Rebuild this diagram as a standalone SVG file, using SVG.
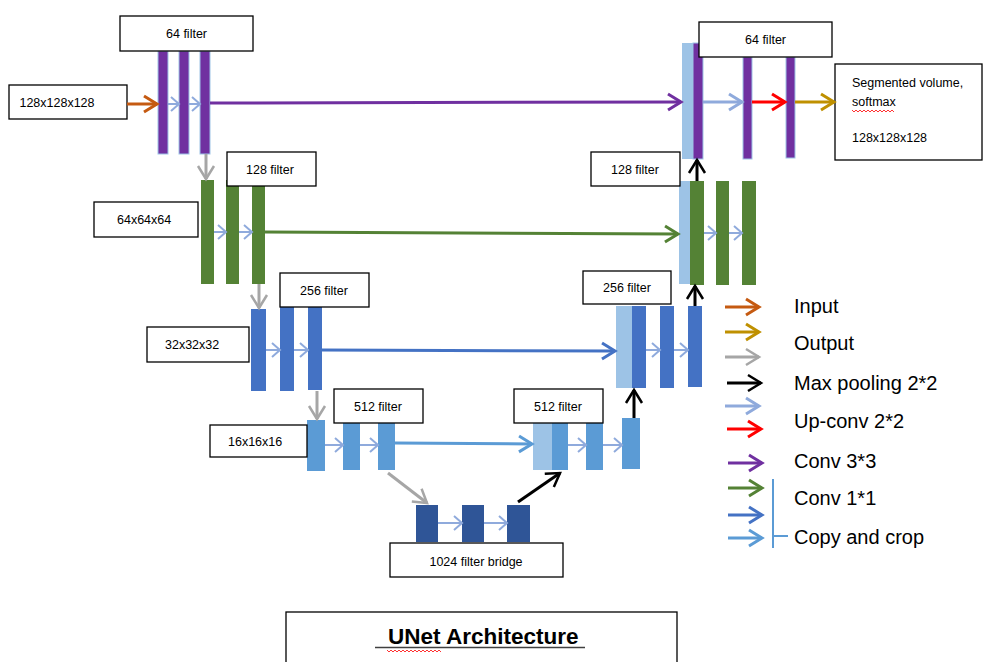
<svg xmlns="http://www.w3.org/2000/svg" width="983" height="662" viewBox="0 0 983 662">
<style>
.box{fill:#fff;stroke:#000;stroke-width:1.3}
.lbl{font-family:"Liberation Sans",Arial,sans-serif;font-size:12.5px;fill:#000}
.lgd{font-family:"Liberation Sans",Arial,sans-serif;font-size:20px;fill:#000}
.pur{fill:#7030A0;stroke:#9DC3E6;stroke-width:1}
.grn{fill:#548235}
.blu{fill:#4472C4}
.mid{fill:#5B9BD5}
.dk{fill:#2F5597}
.lt{fill:#9DC3E6}
.c{fill:none;stroke-width:3}
.cs{fill:none;stroke:#8FAADC;stroke-width:2;marker-end:url(#m-lbs)}
</style>
<defs>
<marker id="m-orange" markerUnits="userSpaceOnUse" markerWidth="18" markerHeight="20" refX="14" refY="9" orient="auto" overflow="visible"><path d="M1,1 L14,9 L1,17" fill="none" stroke="#C55A11" stroke-width="3"/></marker>
<marker id="m-gold" markerUnits="userSpaceOnUse" markerWidth="18" markerHeight="20" refX="14" refY="9" orient="auto" overflow="visible"><path d="M1,1 L14,9 L1,17" fill="none" stroke="#BF9000" stroke-width="3"/></marker>
<marker id="m-gray" markerUnits="userSpaceOnUse" markerWidth="18" markerHeight="20" refX="14" refY="9" orient="auto" overflow="visible"><path d="M1,1 L14,9 L1,17" fill="none" stroke="#A6A6A6" stroke-width="2.5"/></marker>
<marker id="m-black" markerUnits="userSpaceOnUse" markerWidth="18" markerHeight="20" refX="14" refY="9" orient="auto" overflow="visible"><path d="M1,1 L14,9 L1,17" fill="none" stroke="#000" stroke-width="2.5"/></marker>
<marker id="m-lb" markerUnits="userSpaceOnUse" markerWidth="18" markerHeight="20" refX="14" refY="9" orient="auto" overflow="visible"><path d="M1,1 L14,9 L1,17" fill="none" stroke="#8FAADC" stroke-width="3"/></marker>
<marker id="m-red" markerUnits="userSpaceOnUse" markerWidth="18" markerHeight="20" refX="14" refY="9" orient="auto" overflow="visible"><path d="M1,1 L14,9 L1,17" fill="none" stroke="#FF0000" stroke-width="3"/></marker>
<marker id="m-purple" markerUnits="userSpaceOnUse" markerWidth="18" markerHeight="20" refX="14" refY="9" orient="auto" overflow="visible"><path d="M1,1 L14,9 L1,17" fill="none" stroke="#7030A0" stroke-width="3"/></marker>
<marker id="m-green" markerUnits="userSpaceOnUse" markerWidth="18" markerHeight="20" refX="14" refY="9" orient="auto" overflow="visible"><path d="M1,1 L14,9 L1,17" fill="none" stroke="#548235" stroke-width="3"/></marker>
<marker id="m-blue" markerUnits="userSpaceOnUse" markerWidth="18" markerHeight="20" refX="14" refY="9" orient="auto" overflow="visible"><path d="M1,1 L14,9 L1,17" fill="none" stroke="#4472C4" stroke-width="3"/></marker>
<marker id="m-mid" markerUnits="userSpaceOnUse" markerWidth="18" markerHeight="20" refX="14" refY="9" orient="auto" overflow="visible"><path d="M1,1 L14,9 L1,17" fill="none" stroke="#5B9BD5" stroke-width="3"/></marker>
<marker id="m-lbs" markerUnits="userSpaceOnUse" markerWidth="12" markerHeight="18" refX="9" refY="8" orient="auto" overflow="visible"><path d="M1,1 L9,8 L1,15" fill="none" stroke="#8FAADC" stroke-width="2"/></marker>
</defs>
<rect width="983" height="662" fill="#fff"/>

<!-- Encoder level 1 -->
<g id="enc1">
<rect class="pur" x="158" y="51" width="10" height="103"/>
<rect class="pur" x="179" y="51" width="10" height="103"/>
<rect class="pur" x="200" y="51" width="10" height="103"/>
<rect class="box" x="120" y="16" width="133" height="35"/>
<text class="lbl" x="186.5" y="38" text-anchor="middle">64 filter</text>
</g>
<g id="input">
<rect class="box" x="9" y="85" width="118" height="34"/>
<text class="lbl" x="57" y="107" text-anchor="middle">128x128x128</text>
</g>

<!-- Encoder level 2 -->
<g id="enc2">
<rect class="grn" x="201" y="180" width="13" height="104"/>
<rect class="grn" x="226" y="180" width="13" height="104"/>
<rect class="grn" x="252" y="180" width="13" height="104"/>
<rect class="box" x="227" y="152" width="89" height="34"/>
<text class="lbl" x="270" y="174" text-anchor="middle">128 filter</text>
</g>
<g id="size2">
<rect class="box" x="94" y="202" width="104" height="35"/>
<text class="lbl" x="117" y="224">64x64x64</text>
</g>

<!-- Encoder level 3 -->
<g id="enc3">
<rect class="blu" x="251" y="309" width="15" height="82"/>
<rect class="blu" x="280" y="307" width="14" height="84"/>
<rect class="blu" x="308" y="307" width="14" height="83"/>
<rect class="box" x="280" y="273" width="89" height="34"/>
<text class="lbl" x="324" y="295" text-anchor="middle">256 filter</text>
</g>
<g id="size3">
<rect class="box" x="147" y="327" width="102" height="35"/>
<text class="lbl" x="165" y="349">32x32x32</text>
</g>

<!-- Encoder level 4 -->
<g id="enc4">
<rect class="mid" x="307" y="420" width="18" height="51"/>
<rect class="mid" x="343" y="423" width="17" height="47"/>
<rect class="mid" x="378" y="423" width="17" height="47"/>
<rect class="box" x="334" y="389" width="89" height="34"/>
<text class="lbl" x="378" y="411" text-anchor="middle">512 filter</text>
</g>
<g id="size4">
<rect class="box" x="210" y="425" width="97" height="32"/>
<text class="lbl" x="228" y="446">16x16x16</text>
</g>

<!-- Bridge -->
<g id="bridge">
<rect class="dk" x="416" y="505" width="22" height="37"/>
<rect class="dk" x="462" y="505" width="22" height="37"/>
<rect class="dk" x="507" y="505" width="23" height="37"/>
<rect class="box" x="390" y="543" width="173" height="34"/>
<text class="lbl" x="476" y="566" text-anchor="middle">1024 filter bridge</text>
</g>

<!-- Decoder level 4 -->
<g id="dec4">
<rect class="lt" x="533" y="423" width="19" height="47"/>
<rect class="mid" x="552" y="423" width="16" height="47"/>
<rect class="mid" x="586" y="423" width="17" height="47"/>
<rect class="mid" x="622" y="418" width="18" height="51"/>
<rect class="box" x="514" y="389" width="89" height="34"/>
<text class="lbl" x="558" y="411" text-anchor="middle">512 filter</text>
</g>

<!-- Decoder level 3 -->
<g id="dec3">
<rect class="lt" x="616" y="306" width="16" height="82"/>
<rect class="blu" x="632" y="306" width="14" height="82"/>
<rect class="blu" x="660" y="306" width="14" height="82"/>
<rect class="blu" x="688" y="306" width="14" height="81"/>
<rect class="box" x="583" y="271" width="88" height="33"/>
<text class="lbl" x="627" y="292" text-anchor="middle">256 filter</text>
</g>

<!-- Decoder level 2 -->
<g id="dec2">
<rect class="lt" x="679" y="181" width="11" height="103"/>
<rect class="grn" x="690" y="181" width="14" height="104"/>
<rect class="grn" x="716" y="181" width="13" height="104"/>
<rect class="grn" x="742" y="181" width="14" height="104"/>
<rect class="box" x="591" y="152" width="89" height="34"/>
<text class="lbl" x="635" y="174" text-anchor="middle">128 filter</text>
</g>

<!-- Decoder level 1 -->
<g id="dec1">
<rect class="lt" x="682" y="43" width="11" height="116"/>
<rect class="pur" x="693" y="43" width="10" height="116"/>
<rect class="pur" x="743" y="57" width="9" height="102"/>
<rect class="pur" x="786" y="57" width="9" height="101"/>
<rect class="box" x="699" y="22" width="133" height="35"/>
<text class="lbl" x="765.5" y="44" text-anchor="middle">64 filter</text>
</g>
<g id="output">
<rect class="box" x="835" y="64" width="147" height="96"/>
<text class="lbl" x="852" y="87">Segmented volume,</text>
<text class="lbl" x="852" y="106">softmax</text>
<path d="M852,110 l2,2 l2,-2 l2,2 l2,-2 l2,2 l2,-2 l2,2 l2,-2 l2,2 l2,-2 l2,2 l2,-2 l2,2 l2,-2 l2,2 l2,-2 l2,2 l2,-2 l2,2 l2,-2 l2,2" fill="none" stroke="#FF0000" stroke-width="0.8"/>
<text class="lbl" x="852" y="142">128x128x128</text>
</g>

<!-- Connectors -->
<g id="connectors">
<line class="c" x1="127" y1="104" x2="157" y2="104" stroke="#C55A11" marker-end="url(#m-orange)"/>
<line class="cs" x1="168" y1="104" x2="179" y2="104"/>
<line class="cs" x1="189" y1="104" x2="200" y2="104"/>
<line class="c" x1="210" y1="103" x2="681" y2="102" stroke="#7030A0" marker-end="url(#m-purple)"/>
<line class="c" x1="206" y1="154" x2="206" y2="179" stroke="#A6A6A6" stroke-width="2.5" marker-end="url(#m-gray)"/>

<line class="cs" x1="214" y1="232" x2="226" y2="232"/>
<line class="cs" x1="239" y1="232" x2="252" y2="232"/>
<line class="c" x1="265" y1="232" x2="678" y2="234" stroke="#548235" marker-end="url(#m-green)"/>
<line class="c" x1="259" y1="284" x2="259" y2="308" stroke="#A6A6A6" stroke-width="2.5" marker-end="url(#m-gray)"/>

<line class="cs" x1="266" y1="350" x2="280" y2="350"/>
<line class="cs" x1="294" y1="350" x2="308" y2="350"/>
<line class="c" x1="322" y1="350" x2="615" y2="351" stroke="#4472C4" marker-end="url(#m-blue)"/>
<line class="c" x1="317" y1="391" x2="317" y2="419" stroke="#A6A6A6" stroke-width="2.5" marker-end="url(#m-gray)"/>

<line class="cs" x1="325" y1="445" x2="343" y2="445"/>
<line class="cs" x1="360" y1="445" x2="378" y2="445"/>
<line class="c" x1="395" y1="443" x2="532" y2="444" stroke="#5B9BD5" marker-end="url(#m-mid)"/>
<line class="c" x1="388" y1="473" x2="427" y2="503" stroke="#A6A6A6" stroke-width="2.5" marker-end="url(#m-gray)"/>

<line class="cs" x1="438" y1="523" x2="462" y2="523"/>
<line class="cs" x1="484" y1="523" x2="507" y2="523"/>
<line class="c" x1="518" y1="502" x2="560" y2="473" stroke="#000" stroke-width="2.5" marker-end="url(#m-black)"/>

<line class="cs" x1="568" y1="445" x2="586" y2="445"/>
<line class="cs" x1="603" y1="445" x2="622" y2="445"/>
<line class="c" x1="634" y1="418" x2="634" y2="390" stroke="#000" stroke-width="2.5" marker-end="url(#m-black)"/>

<line class="cs" x1="646" y1="350" x2="660" y2="350"/>
<line class="cs" x1="674" y1="350" x2="688" y2="350"/>
<line class="c" x1="695" y1="306" x2="695" y2="286" stroke="#000" stroke-width="2.5" marker-end="url(#m-black)"/>

<line class="cs" x1="704" y1="233" x2="716" y2="233"/>
<line class="cs" x1="729" y1="233" x2="742" y2="233"/>
<line class="c" x1="697" y1="181" x2="697" y2="160" stroke="#000" stroke-width="2.5" marker-end="url(#m-black)"/>

<line class="c" x1="703" y1="102" x2="742" y2="102" stroke="#8FAADC" marker-end="url(#m-lb)"/>
<line class="c" x1="752" y1="102" x2="785" y2="102" stroke="#FF0000" marker-end="url(#m-red)"/>
<line class="c" x1="795" y1="102" x2="834" y2="102" stroke="#BF9000" marker-end="url(#m-gold)"/>
</g>

<!-- Legend -->
<g id="legend">
<line class="c" x1="725" y1="307" x2="759" y2="307" stroke="#C55A11" marker-end="url(#m-orange)"/>
<line class="c" x1="725" y1="332" x2="759" y2="332" stroke="#BF9000" marker-end="url(#m-gold)"/>
<line class="c" x1="725" y1="357" x2="759" y2="357" stroke="#A6A6A6" marker-end="url(#m-gray)"/>
<line class="c" x1="727" y1="383" x2="761" y2="383" stroke="#000" stroke-width="2.5" marker-end="url(#m-black)"/>
<line class="c" x1="725" y1="406" x2="759" y2="406" stroke="#8FAADC" marker-end="url(#m-lb)"/>
<line class="c" x1="727" y1="429" x2="761" y2="429" stroke="#FF0000" marker-end="url(#m-red)"/>
<line class="c" x1="728" y1="463" x2="762" y2="463" stroke="#7030A0" marker-end="url(#m-purple)"/>
<line class="c" x1="728" y1="488" x2="762" y2="488" stroke="#548235" marker-end="url(#m-green)"/>
<line class="c" x1="728" y1="515" x2="762" y2="515" stroke="#4472C4" marker-end="url(#m-blue)"/>
<line class="c" x1="728" y1="538" x2="762" y2="538" stroke="#5B9BD5" marker-end="url(#m-mid)"/>
<line x1="773" y1="479" x2="773" y2="548" stroke="#5B9BD5" stroke-width="2"/>
<line x1="773" y1="536" x2="788" y2="536" stroke="#5B9BD5" stroke-width="2"/>
<text class="lgd" x="794" y="313">Input</text>
<text class="lgd" x="794" y="350">Output</text>
<text class="lgd" x="794" y="390">Max pooling 2*2</text>
<text class="lgd" x="794" y="428">Up-conv 2*2</text>
<text class="lgd" x="794" y="468">Conv 3*3</text>
<text class="lgd" x="794" y="505">Conv 1*1</text>
<text class="lgd" x="794" y="544">Copy and crop</text>
</g>

<!-- Title -->
<g id="title">
<rect class="box" x="286" y="612" width="391" height="60"/>
<text x="388" y="644" font-family="'Liberation Sans',Arial,sans-serif" font-size="22.5" font-weight="bold" fill="#000">UNet Architecture</text>
<line x1="375" y1="647.5" x2="585" y2="647.5" stroke="#404040" stroke-width="1.5"/>
<path d="M387,650 l2,2 l2,-2 l2,2 l2,-2 l2,2 l2,-2 l2,2 l2,-2 l2,2 l2,-2 l2,2 l2,-2 l2,2 l2,-2 l2,2 l2,-2 l2,2 l2,-2 l2,2 l2,-2 l2,2 l2,-2 l2,2 l2,-2 l2,2 l2,-2 l2,2" fill="none" stroke="#FF0000" stroke-width="0.8"/>
</g>
</svg>
